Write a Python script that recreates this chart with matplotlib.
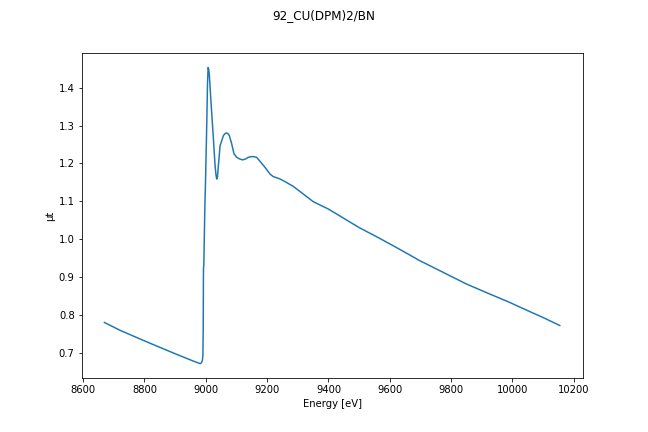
import matplotlib
matplotlib.use("Agg")
import matplotlib.pyplot as plt

# 값은 그림에서 읽은 추정치
energy = [8669.3, 8721.0, 8810.0, 8906.0, 8960.0, 8975.0, 8981.5, 8986.0, 8989.0,
          8990.5, 8991.5, 8992.2, 8992.5, 8993.5, 8995.0, 8997.0, 8999.0, 9003.2,
          9005.5, 9007.5, 9009.5, 9011.7, 9016.3, 9020.5, 9024.8, 9030.2, 9033.5,
          9035.8, 9038.0, 9041.0, 9046.5, 9052.0, 9057.3, 9063.0, 9068.3, 9073.0,
          9076.7, 9084.5, 9092.0, 9100.8, 9110.0, 9120.3, 9130.0, 9138.5, 9147.0,
          9154.8, 9165.8, 9176.6, 9192.8, 9209.0, 9219.8, 9241.6, 9261.0, 9284.9,
          9317.4, 9349.9, 9371.7, 9398.7, 9426.0, 9458.5, 9501.8, 9556.1, 9610.1,
          9664.4, 9696.9, 9718.7, 9783.7, 9848.8, 9924.6, 9989.6, 10043.9, 10097.9,
          10154.5]
mu_t = [0.781, 0.760, 0.729, 0.6966, 0.679, 0.6745, 0.6725, 0.675, 0.682,
        0.695, 0.760, 0.900, 0.926, 0.930, 1.000, 1.090, 1.150, 1.3085,
        1.410, 1.453, 1.448, 1.4316, 1.370, 1.3175, 1.265, 1.194, 1.168,
        1.159, 1.165, 1.194, 1.247, 1.260, 1.2735, 1.279, 1.2806, 1.278,
        1.2735, 1.2516, 1.2253, 1.2163, 1.212, 1.2095, 1.212, 1.2163, 1.218,
        1.2182, 1.2163, 1.206, 1.190, 1.1726, 1.1655, 1.1594, 1.151, 1.1399,
        1.1199, 1.0996, 1.0909, 1.0804, 1.0672, 1.0514, 1.0303, 1.0074, 0.9837,
        0.9592, 0.9442, 0.9355, 0.9092, 0.8828, 0.8565, 0.8344, 0.8143, 0.7948,
        0.7730]

fig = plt.figure(figsize=(9, 6), dpi=72)
ax = fig.add_subplot(111)
fig.subplots_adjust(left=0.126, right=0.899, top=0.878, bottom=0.124)

ax.plot(energy, mu_t)
fig.suptitle("92_CU(DPM)2/BN")
ax.set_xlabel("Energy [eV]")
ax.set_ylabel("μt")

fig.savefig("out.png", dpi=72)
